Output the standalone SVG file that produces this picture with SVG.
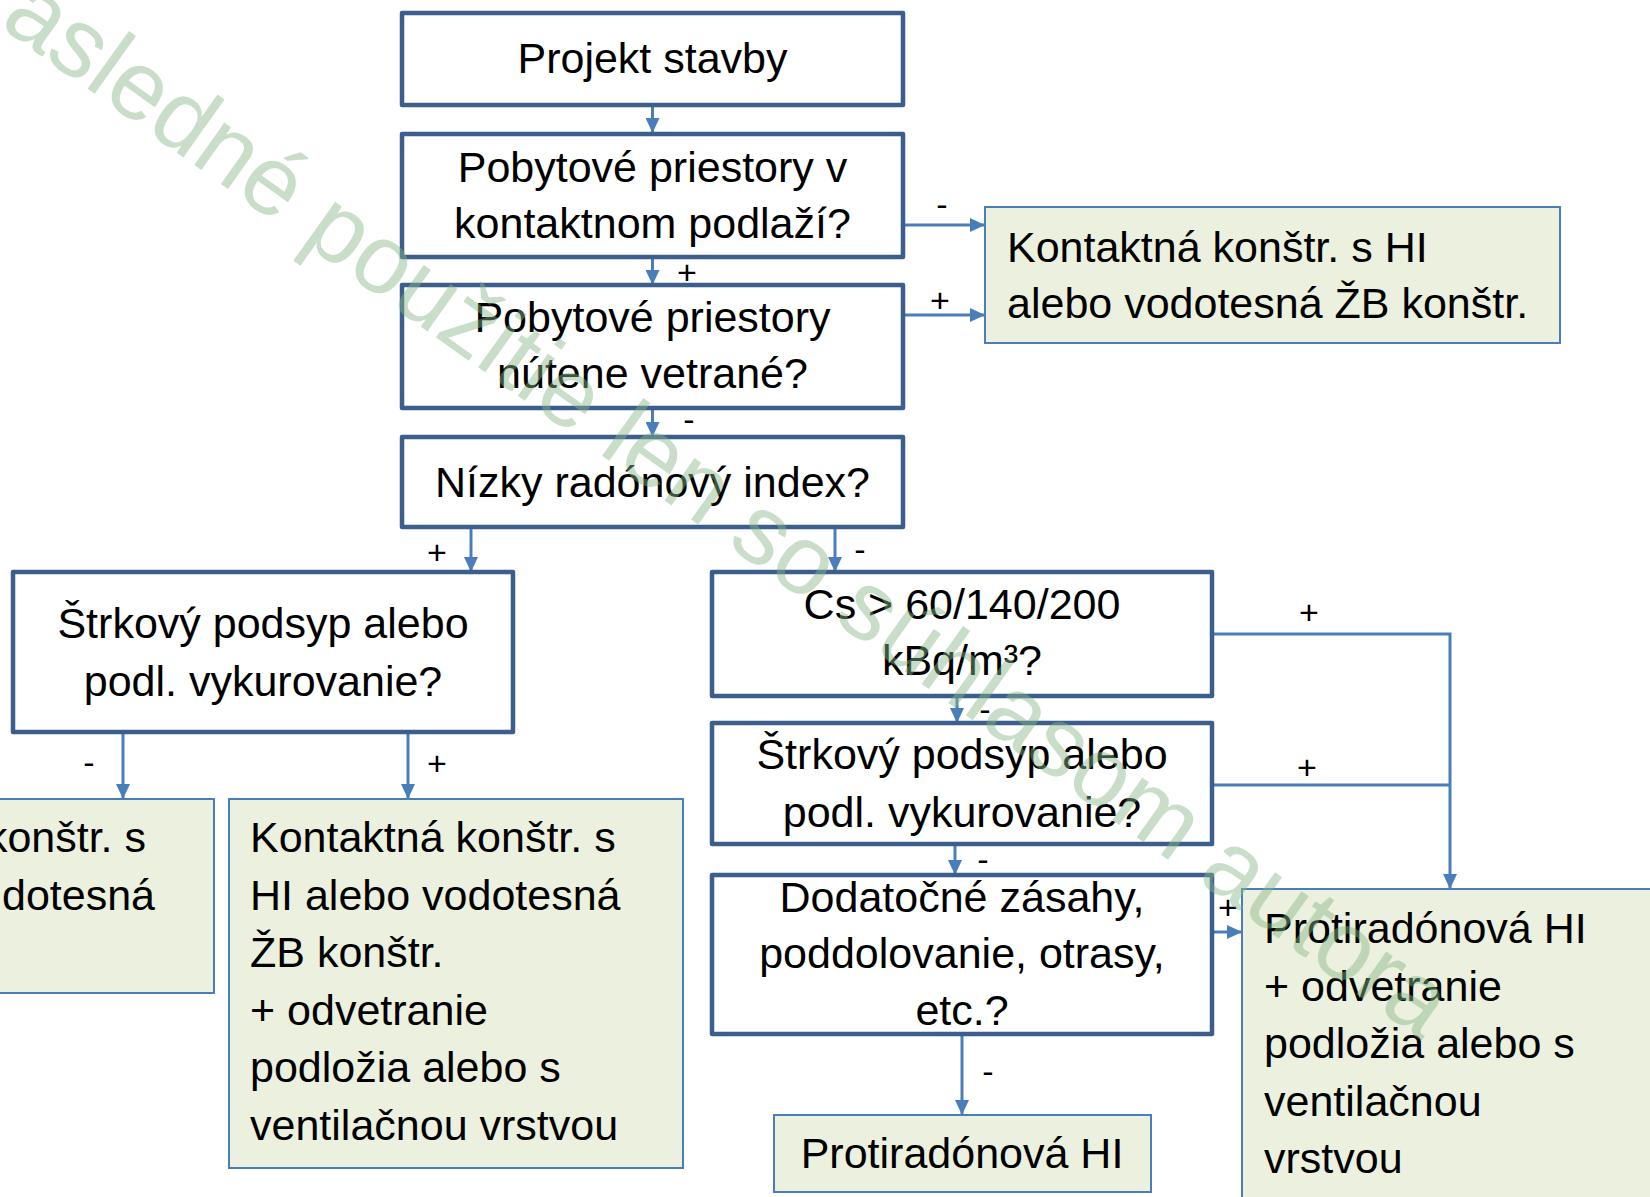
<svg xmlns="http://www.w3.org/2000/svg" width="1650" height="1197" viewBox="0 0 1650 1197">
<defs>
<marker id="arr" markerUnits="userSpaceOnUse" markerWidth="15" markerHeight="14" refX="15" refY="7" orient="auto"><path d="M0,0 L15,7 L0,14 z" fill="#4a7ebb"/></marker>
<style>
.q{fill:#fff;stroke:#3b5e8c;stroke-width:4.5;stroke-linejoin:round}
.r{fill:#ebf1de;stroke:#4a7ebb;stroke-width:2}
.t{font-family:"Liberation Sans",Arial,sans-serif;font-size:43px;fill:#000}
.c{text-anchor:middle}
.e{text-anchor:end}
.l{font-family:"Liberation Sans",Arial,sans-serif;font-size:34px;fill:#000;text-anchor:middle}
.k{fill:none;stroke:#4a7ebb;stroke-width:3}
.w{font-family:"Liberation Sans",Arial,sans-serif;font-size:98px;fill:#86b886;opacity:.45}
</style>
</defs>
<rect width="1650" height="1197" fill="#fff"/>

<g id="connectors">
<line class="k" x1="652.5" y1="105" x2="652.5" y2="133" marker-end="url(#arr)"/>
<line class="k" x1="652.5" y1="257" x2="652.5" y2="285" marker-end="url(#arr)"/>
<line class="k" x1="652.5" y1="408" x2="652.5" y2="437" marker-end="url(#arr)"/>
<line class="k" x1="903" y1="225" x2="985" y2="225" marker-end="url(#arr)"/>
<line class="k" x1="903" y1="315" x2="985" y2="315" marker-end="url(#arr)"/>
<line class="k" x1="471" y1="527" x2="471" y2="572" marker-end="url(#arr)"/>
<line class="k" x1="835" y1="527" x2="835" y2="572" marker-end="url(#arr)"/>
<line class="k" x1="123" y1="732" x2="123" y2="799" marker-end="url(#arr)"/>
<line class="k" x1="408" y1="732" x2="408" y2="799" marker-end="url(#arr)"/>
<line class="k" x1="957" y1="696" x2="957" y2="723" marker-end="url(#arr)"/>
<line class="k" x1="955" y1="844" x2="955" y2="875" marker-end="url(#arr)"/>
<polyline class="k" points="1212,634 1450,634 1450,889" marker-end="url(#arr)"/>
<line class="k" x1="1212" y1="785" x2="1450" y2="785"/>
<line class="k" x1="1213" y1="932" x2="1242" y2="932" marker-end="url(#arr)"/>
<line class="k" x1="962" y1="1034" x2="962" y2="1115" marker-end="url(#arr)"/>
<text class="l" x="687" y="284">+</text>
<text class="l" x="689" y="431">-</text>
<text class="l" x="942" y="216">-</text>
<text class="l" x="940" y="312">+</text>
<text class="l" x="437" y="564">+</text>
<text class="l" x="860" y="561">-</text>
<text class="l" x="89" y="774">-</text>
<text class="l" x="437" y="775">+</text>
<text class="l" x="1309" y="624">+</text>
<text class="l" x="985" y="721">-</text>
<text class="l" x="1307" y="779">+</text>
<text class="l" x="983" y="871">-</text>
<text class="l" x="1228" y="919">+</text>
<text class="l" x="988" y="1083">-</text>
</g>

<g id="n1"><rect class="q" x="402" y="13" width="501" height="92"/>
<text class="t c" x="652.5" y="73">Projekt stavby</text></g>

<g id="n2"><rect class="q" x="402" y="134" width="501" height="123"/>
<text class="t c" x="652.5" y="182">Pobytové priestory v</text>
<text class="t c" x="652.5" y="238">kontaktnom podlaží?</text></g>

<g id="n3"><rect class="q" x="402" y="285" width="501" height="123"/>
<text class="t c" x="652.5" y="332">Pobytové priestory</text>
<text class="t c" x="652.5" y="388">nútene vetrané?</text></g>

<g id="n4"><rect class="q" x="402" y="437" width="501" height="90"/>
<text class="t c" x="652.5" y="497">Nízky radónový index?</text></g>

<g id="nA"><rect class="r" x="985" y="207" width="575" height="136"/>
<text class="t" x="1007" y="262">Kontaktná konštr. s HI</text>
<text class="t" x="1007" y="318">alebo vodotesná ŽB konštr.</text></g>

<g id="n5"><rect class="q" x="13" y="572" width="500" height="160"/>
<text class="t c" x="263" y="638">Štrkový podsyp alebo</text>
<text class="t c" x="263" y="696">podl. vykurovanie?</text></g>

<g id="n6"><rect class="q" x="712" y="572" width="500" height="124"/>
<text class="t c" x="962" y="619">Cs &gt; 60/140/200</text>
<text class="t c" x="962" y="675">kBq/m³?</text></g>

<g id="n7"><rect class="q" x="712" y="723" width="500" height="121"/>
<text class="t c" x="962" y="769">Štrkový podsyp alebo</text>
<text class="t c" x="962" y="827">podl. vykurovanie?</text></g>

<g id="n8"><rect class="q" x="712" y="875" width="500" height="159"/>
<text class="t c" x="962" y="912">Dodatočné zásahy,</text>
<text class="t c" x="962" y="968">poddolovanie, otrasy,</text>
<text class="t c" x="962" y="1025">etc.?</text></g>

<g id="nB"><rect class="r" x="-10" y="799" width="224" height="194"/>
<text class="t e" x="146" y="852">konštr. s</text>
<text class="t e" x="155" y="910">dotesná</text></g>

<g id="nC"><rect class="r" x="229" y="799" width="454" height="369"/>
<text class="t" x="250" y="852">Kontaktná konštr. s</text>
<text class="t" x="250" y="910">HI alebo vodotesná</text>
<text class="t" x="250" y="967">ŽB konštr.</text>
<text class="t" x="250" y="1025">+ odvetranie</text>
<text class="t" x="250" y="1082">podložia alebo s</text>
<text class="t" x="250" y="1140">ventilačnou vrstvou</text></g>

<g id="nD"><rect class="r" x="774" y="1115" width="377" height="77"/>
<text class="t c" x="962" y="1168">Protiradónová HI</text></g>

<g id="nE"><rect class="r" x="1242" y="889" width="420" height="320"/>
<text class="t" x="1264" y="943">Protiradónová HI</text>
<text class="t" x="1264" y="1001">+ odvetranie</text>
<text class="t" x="1264" y="1058">podložia alebo s</text>
<text class="t" x="1264" y="1116">ventilačnou</text>
<text class="t" x="1264" y="1173">vrstvou</text></g>

<g id="watermark"><text class="w" transform="translate(-2,25) rotate(35.5)">asledné použitie len so súhlasom autora</text></g>
</svg>
